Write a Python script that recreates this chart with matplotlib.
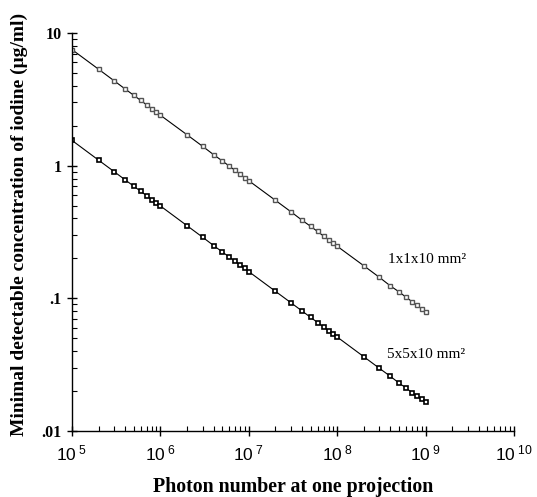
import matplotlib
matplotlib.use("Agg")
import matplotlib.pyplot as plt
from matplotlib.ticker import FixedLocator, FixedFormatter, LogLocator, NullFormatter

plt.rcParams["font.family"] = "serif"
plt.rcParams["font.serif"] = ["Liberation Serif", "DejaVu Serif"]
plt.rcParams["mathtext.fontset"] = "custom"
plt.rcParams["mathtext.rm"] = "Liberation Sans"
plt.rcParams["mathtext.it"] = "Liberation Sans"
plt.rcParams["mathtext.bf"] = "Liberation Sans"

# photon numbers (1..9 x 10^k, from 1e5 up to 1e9)
photons = [1e5, 2e5, 3e5, 4e5, 5e5, 6e5, 7e5, 8e5, 9e5,
           1e6, 2e6, 3e6, 4e6, 5e6, 6e6, 7e6, 8e6, 9e6,
           1e7, 2e7, 3e7, 4e7, 5e7, 6e7, 7e7, 8e7, 9e7,
           1e8, 2e8, 3e8, 4e8, 5e8, 6e8, 7e8, 8e8, 9e8,
           1e9]

# minimal detectable iodine concentration (ug/ml)
conc_1x1 = [7.5, 5.33, 4.36, 3.78, 3.39, 3.10, 2.87, 2.69, 2.53,
            2.40, 1.71, 1.40, 1.21, 1.087, 0.994, 0.920, 0.862, 0.811,
            0.770, 0.548, 0.449, 0.388, 0.349, 0.319, 0.295, 0.276, 0.260,
            0.247, 0.176, 0.144, 0.124, 0.112, 0.102, 0.0946, 0.0886, 0.0834,
            0.0792]
conc_5x5 = [1.55, 1.10, 0.901, 0.781, 0.700, 0.640, 0.593, 0.555, 0.524,
            0.497, 0.353, 0.289, 0.250, 0.224, 0.205, 0.190, 0.178, 0.168,
            0.159, 0.113, 0.0926, 0.0803, 0.0719, 0.0657, 0.0609, 0.0570, 0.0538,
            0.0511, 0.0363, 0.0297, 0.0258, 0.0230, 0.0211, 0.0195, 0.0183, 0.0173,
            0.0164]

label_1x1 = "1x1x10 mm²"
label_5x5 = "5x5x10 mm²"

x_ticks = [1e5, 1e6, 1e7, 1e8, 1e9, 1e10]
x_ticklabels = [r"$10^{\ 5}$", r"$10^{\ 6}$", r"$10^{\ 7}$",
                r"$10^{\ 8}$", r"$10^{\ 9}$", r"$10^{\ 10}$"]
y_ticks = [0.01, 0.1, 1, 10]
y_ticklabels = [".01", ".1", "1", "10"]

fig = plt.figure(figsize=(5.37, 4.97), dpi=100)
ax = fig.add_axes([72 / 537, 1 - 431 / 497, (514 - 72) / 537, (431 - 33) / 497])

ax.plot(photons, conc_1x1, color="black", lw=0.8, marker="s", ms=3.3,
        mfc="white", mec="#555555", mew=1.0)
ax.plot(photons, conc_5x5, color="black", lw=0.8, marker="s", ms=3.3,
        mfc="white", mec="black", mew=1.2)

ax.set_xscale("log")
ax.set_yscale("log")
ax.set_xlim(1e5, 1e10)
ax.set_ylim(0.01, 10)

for s in ["top", "right"]:
    ax.spines[s].set_visible(False)
for s in ["left", "bottom"]:
    ax.spines[s].set_linewidth(1.0)

ax.xaxis.set_major_locator(FixedLocator(x_ticks))
ax.xaxis.set_major_formatter(FixedFormatter(x_ticklabels))
ax.yaxis.set_major_locator(FixedLocator(y_ticks))
ax.yaxis.set_major_formatter(FixedFormatter(y_ticklabels))
ax.xaxis.set_minor_locator(LogLocator(base=10, subs=range(2, 10), numticks=20))
ax.yaxis.set_minor_locator(LogLocator(base=10, subs=range(2, 10), numticks=20))
ax.xaxis.set_minor_formatter(NullFormatter())
ax.yaxis.set_minor_formatter(NullFormatter())

ax.tick_params(which="major", direction="inout", length=7, width=1)
ax.tick_params(which="minor", direction="in", length=3.5, width=0.8)
ax.tick_params(axis="x", which="major", labelsize=12.5, pad=6)
ax.tick_params(axis="y", which="major", labelsize=11.5, pad=4)
for t in ax.get_yticklabels():
    t.set_fontweight("bold")

ax.text(3.76e8, 0.195, label_1x1, fontsize=11, va="center", ha="left")
ax.text(3.66e8, 0.0374, label_5x5, fontsize=11, va="center", ha="left")

ax.set_xlabel("Photon number at one projection", fontsize=14.3, fontweight="bold")
ax.xaxis.set_label_coords(0.5, -0.115)
ax.set_ylabel("Minimal detectable concentration of iodine (μg/ml)", fontsize=14.0,
              fontweight="bold")
ax.yaxis.set_label_coords(-0.1, (431 - 224) / (431 - 33))

fig.savefig("out.png", dpi=100)
